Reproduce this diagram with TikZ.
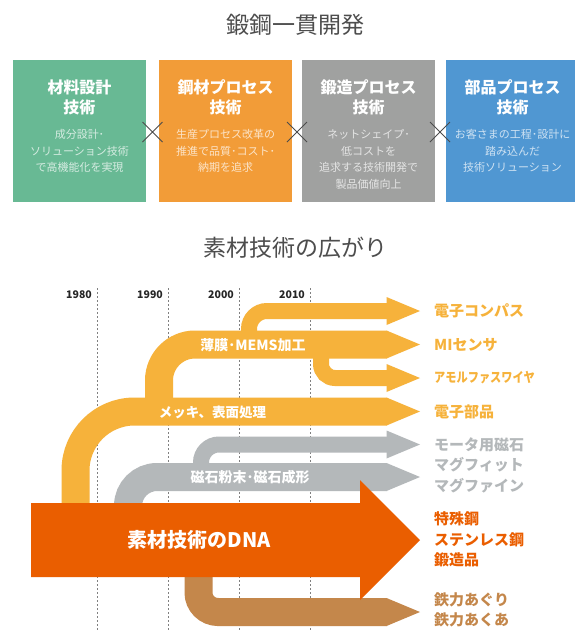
\documentclass[tikz,border=0pt]{standalone}
\usepackage{fontspec}
\newfontfamily\jp{Noto Sans CJK JP}
\definecolor{cgreen}{HTML}{68B994}
\definecolor{corange}{HTML}{F29C38}
\definecolor{cgray}{HTML}{A0A1A0}
\definecolor{cblue}{HTML}{5097D2}
\definecolor{cyel}{HTML}{F6B23B}
\definecolor{cband}{HTML}{B4B8BA}
\definecolor{cdna}{HTML}{EA5E00}
\definecolor{cbrown}{HTML}{C4874B}
\definecolor{ctitle}{HTML}{4D4D4D}
\begin{document}
\begin{tikzpicture}[x=1pt,y=-1pt,
  title/.style={inner sep=0pt, text=ctitle, font=\jp\fontsize{23}{27}\selectfont},
  boxhead/.style={inner sep=0pt, align=center, text=white, font=\jp\bfseries\fontsize{16}{20}\selectfont},
  boxsub/.style={inner sep=0pt, align=center, text=white, text opacity=0.72, font=\jp\fontsize{11}{16.5}\selectfont},
  xmark/.style={draw=black!70, line width=0.8pt},
  year/.style={inner sep=0pt, anchor=east, text=black!85, font=\jp\bfseries\fontsize{10.5}{12}\selectfont},
  dotline/.style={draw=black!50, line width=0.8pt, dash pattern=on 2pt off 2pt},
  thick band/.style={line width=28pt},
  thin band/.style={line width=16pt},
  bandlbl/.style={inner sep=0pt, text=white, font=\jp\bfseries\fontsize{14}{16}\selectfont},
  lab/.style={inner sep=0pt, anchor=west, font=\jp\bfseries\fontsize{15}{20.5}\selectfont},
]
\useasboundingbox (0,0) rectangle (575,630);
\fill[white] (0,0) rectangle (575,630);

% titles
\node[title] (t1) at (295.5,25) {鍛鋼一貫開発};
\node[title] (t2) at (295.5,248) {素材技術の広がり};

% boxes
\fill[cgreen] (13,60) rectangle (146,202);
\fill[corange] (159,60) rectangle (292,202);
\fill[cgray] (302,60) rectangle (435,202);
\fill[cblue] (446,60) rectangle (575,202);

\node[boxhead] (h1) at (79.5,97) {材料設計\\技術};
\node[boxhead] (h2) at (225.5,97) {鋼材プロセス\\技術};
\node[boxhead] (h3) at (368.5,97) {鍛造プロセス\\技術};
\node[boxhead] (h4) at (512.5,97) {部品プロセス\\技術};

\node[boxsub] (s1) at (79.5,151) {成分設計･\\ソリューション技術\\で高機能化を実現};
\node[boxsub] (s2) at (225.5,151) {生産プロセス改革の\\推進で品質･コスト･\\納期を追求};
\node[boxsub] (s3) at (368.5,159.5) {ネットシェイプ･\\低コストを\\追求する技術開発で\\製品価値向上};
\node[boxsub] (s4) at (512.5,151) {お客さまの工程･設計に\\踏み込んだ\\技術ソリューション};

% cross marks
\foreach \cx in {152.5,297,440}{
  \draw[xmark] (\cx-10,122) -- (\cx+10,142) (\cx-10,142) -- (\cx+10,122);
}

% timeline
\node[year] (y1) at (92,295) {1980};
\node[year] (y2) at (163,295) {1990};
\node[year] (y3) at (234,295) {2000};
\node[year] (y4) at (305,295) {2010};
\foreach \lx in {97,168,239,310}{
  \draw[dotline] (\lx,288) -- (\lx,630);
}

% yellow bands
\draw[cyel, thick band, rounded corners=59pt] (75.5,510) -- (75.5,411.5) -- (387,411.5);
\draw[cyel, thick band, rounded corners=36pt] (159,405) -- (159,344.5) -- (387,344.5);
\draw[cyel, thin band, rounded corners=18pt] (249,340) -- (249,311) -- (387,311);
\draw[cyel, thin band, rounded corners=14pt] (321,350) -- (321,378) -- (387,378);
\fill[cyel] (386.5,297) -- (420,311) -- (386.5,325) -- cycle;
\fill[cyel] (386.5,330.5) -- (420,344.5) -- (386.5,358.5) -- cycle;
\fill[cyel] (386.5,364) -- (420,378) -- (386.5,392) -- cycle;
\fill[cyel] (386.5,397.5) -- (420,411.5) -- (386.5,425.5) -- cycle;

% gray bands
\draw[cband, thick band, rounded corners=29pt] (128,515) -- (128,477) -- (387,477);
\draw[cband, thin band, rounded corners=18pt] (201,470) -- (201,444.5) -- (387,444.5);
\fill[cband] (386.5,430.5) -- (420,444.5) -- (386.5,458.5) -- cycle;
\fill[cband] (386.5,463) -- (420,477) -- (386.5,491) -- cycle;

% brown band
\draw[cbrown, thick band, rounded corners=19.5pt] (198.5,570) -- (198.5,612) -- (387,612);
\fill[cbrown] (386.5,598) -- (420,612) -- (386.5,626) -- cycle;

% DNA arrow
\fill[cdna] (31,503) -- (360,503) -- (360,480) -- (420,540) -- (360,600) -- (360,577) -- (31,577) -- cycle;

% band labels
\node[bandlbl] (b1) at (253,345) {薄膜･MEMS加工};
\node[bandlbl, font=\jp\bfseries\fontsize{13.5}{16}\selectfont] (b2) at (212.5,412) {メッキ、表面処理};
\node[bandlbl] (b3) at (250,477) {磁石粉末･磁石成形};
\node[bandlbl, font=\jp\bfseries\fontsize{20}{24}\selectfont] (b4) at (199.5,540) {素材技術のDNA};

% right labels
\node[lab, text=cyel] (r1) at (434,311) {電子コンパス};
\node[lab, text=cyel] (r2) at (434,344.5) {MIセンサ};
\node[lab, text=cyel, font=\jp\bfseries\fontsize{13.5}{16}\selectfont] (r3) at (434,378) {\scalebox{0.83}[1]{アモルファスワイヤ}};
\node[lab, text=cyel] (r4) at (434,411.5) {電子部品};
\node[lab, text=cband] (r5) at (434,444.5) {モータ用磁石};
\node[lab, text=cband] (r6) at (434,465) {マグフィット};
\node[lab, text=cband] (r7) at (434,485.5) {マグファイン};
\node[lab, text=cdna] (r8) at (434,519) {特殊鋼};
\node[lab, text=cdna] (r9) at (434,539.5) {ステンレス鋼};
\node[lab, text=cdna] (r10) at (434,560) {鍛造品};
\node[lab, text=cbrown] (r11) at (434,600) {鉄力あぐり};
\node[lab, text=cbrown] (r12) at (434,620) {鉄力あくあ};
\end{tikzpicture}
\end{document}
